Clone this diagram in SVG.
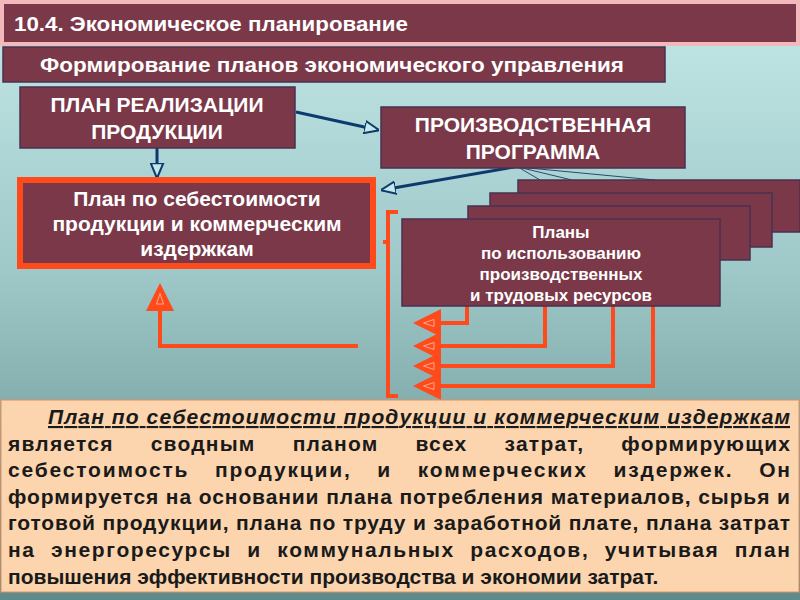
<svg xmlns="http://www.w3.org/2000/svg" width="800" height="600" viewBox="0 0 800 600">
<defs>
<linearGradient id="bg" x1="0" y1="0" x2="0" y2="1">
<stop offset="0" stop-color="#c4e8e8"/><stop offset="0.45" stop-color="#9fc8c8"/><stop offset="1" stop-color="#5e8a8a"/>
</linearGradient>
<marker id="ob" viewBox="0 0 12 12" refX="9" refY="6" markerWidth="7" markerHeight="7" orient="auto" markerUnits="strokeWidth">
<path d="M0,0 L12,6 L0,12 Z" fill="#ff4a1c"/><path d="M3,4.5 L7.5,6 L3,7.5 Z" fill="none" stroke="#ffb090" stroke-width="0.4"/>
</marker>
<marker id="bb" viewBox="0 0 12 12" refX="11" refY="6" markerWidth="5" markerHeight="5" orient="auto" markerUnits="strokeWidth">
<path d="M0,1 L12,6 L0,11 Z" fill="#c4e8e8" stroke="#0d3a6e" stroke-width="1.6"/>
</marker>
</defs>
<style>
.box{fill:#7a3848;stroke:#4a3050;stroke-width:1.5}
.wt{fill:#fff;font-family:"Liberation Sans",Arial,sans-serif;font-weight:bold;text-anchor:middle}
.bt{fill:#1a1a1a;font-family:"Liberation Sans",Arial,sans-serif;font-weight:bold;font-size:21px}
.ol{fill:none;stroke:#ff4a1c;stroke-width:4}
.bl{fill:none;stroke:#0d3a6e;stroke-width:3}
.tl{fill:none;stroke:#2a4a6e;stroke-width:1}
</style>
<rect width="800" height="600" fill="url(#bg)"/>
<rect x="0" y="0" width="800" height="46" fill="#f2b8bc"/>
<g id="title"><rect x="4" y="4" width="792" height="38" fill="#7a3848"/>
<text x="14" y="31" class="wt" style="text-anchor:start;font-size:21px" textLength="394" lengthAdjust="spacingAndGlyphs">10.4. Экономическое планирование</text></g>
<g id="subtitle"><rect x="3" y="47" width="662" height="35" class="box"/>
<text x="40" y="72" class="wt" style="text-anchor:start;font-size:21px" textLength="584" lengthAdjust="spacingAndGlyphs">Формирование  планов экономического управления</text></g>
<g id="connectors">
<line x1="296" y1="112" x2="378" y2="130" class="bl" marker-end="url(#bb)"/>
<line x1="157" y1="148" x2="157" y2="177" class="bl" marker-end="url(#bb)"/>
<line x1="514" y1="167" x2="382" y2="190" class="bl" marker-end="url(#bb)"/>
<line x1="518" y1="167" x2="540" y2="180" class="tl"/>
<line x1="518" y1="167" x2="572" y2="180" class="tl"/>
<line x1="518" y1="167" x2="655" y2="180" class="tl"/>
<polyline points="398,212 388,212 388,396 398,396" class="ol"/>
<line x1="383" y1="242" x2="388" y2="242" class="ol"/>
<polyline points="467,306 467,323 420,323" class="ol" marker-end="url(#ob)"/>
<polyline points="545,306 545,346 420,346" class="ol" marker-end="url(#ob)"/>
<polyline points="613,306 613,366 420,366" class="ol" marker-end="url(#ob)"/>
<polyline points="653,306 653,386 420,386" class="ol" marker-end="url(#ob)"/>
<polyline points="358,346 160,346 160,290" class="ol" marker-end="url(#ob)"/>
</g>
<g id="plan-real"><rect x="20" y="87" width="275" height="61" class="box"/>
<text class="wt" style="font-size:21px"><tspan x="157" y="112">ПЛАН РЕАЛИЗАЦИИ</tspan><tspan x="157" y="139">ПРОДУКЦИИ</tspan></text></g>
<g id="prod-prog"><rect x="381" y="107" width="304" height="61" class="box"/>
<text class="wt" style="font-size:21px"><tspan x="533" y="132">ПРОИЗВОДСТВЕННАЯ</tspan><tspan x="533" y="159">ПРОГРАММА</tspan></text></g>
<g id="plan-cost"><rect x="20" y="180" width="353" height="86" fill="#7a3848" stroke="#ff4a1c" stroke-width="6"/>
<text class="wt" style="font-size:21px"><tspan x="197" y="206">План по себестоимости</tspan><tspan x="197" y="231">продукции и коммерческим</tspan><tspan x="197" y="256">издержкам</tspan></text></g>
<g id="plans-stack">
<rect x="518" y="180" width="282" height="52" class="box"/>
<rect x="490" y="193" width="282" height="54" class="box"/>
<rect x="468" y="206" width="282" height="54" class="box"/>
<rect x="402" y="219" width="318" height="87" class="box"/>
<text class="wt" style="font-size:17px"><tspan x="561" y="238">Планы</tspan><tspan x="561" y="259">по использованию</tspan><tspan x="561" y="280">производственных</tspan><tspan x="561" y="301">и трудовых ресурсов</tspan></text></g>
<g id="desc"><rect x="1" y="400" width="798" height="192" fill="#fcd5ae" stroke="#e09060" stroke-width="1"/>
<text class="bt" x="48" y="424" textLength="742" lengthAdjust="spacing" style="font-style:italic;text-decoration:underline">План по себестоимости продукции и коммерческим издержкам</text>
<text class="bt" x="8" y="451" textLength="782" lengthAdjust="spacing" word-spacing="30">является сводным планом всех затрат, формирующих</text>
<text class="bt" x="8" y="477" textLength="782" lengthAdjust="spacing" word-spacing="18">себестоимость продукции, и коммерческих издержек. Он</text>
<text class="bt" x="8" y="504" textLength="782" lengthAdjust="spacing">формируется на основании плана потребления материалов, сырья и</text>
<text class="bt" x="8" y="530" textLength="782" lengthAdjust="spacing">готовой продукции, плана по труду и заработной плате, плана затрат</text>
<text class="bt" x="8" y="557" textLength="782" lengthAdjust="spacing" word-spacing="8">на энергоресурсы и коммунальных расходов, учитывая план</text>
<text class="bt" x="8" y="584">повышения эффективности производства и экономии затрат.</text>
</g>
</svg>
